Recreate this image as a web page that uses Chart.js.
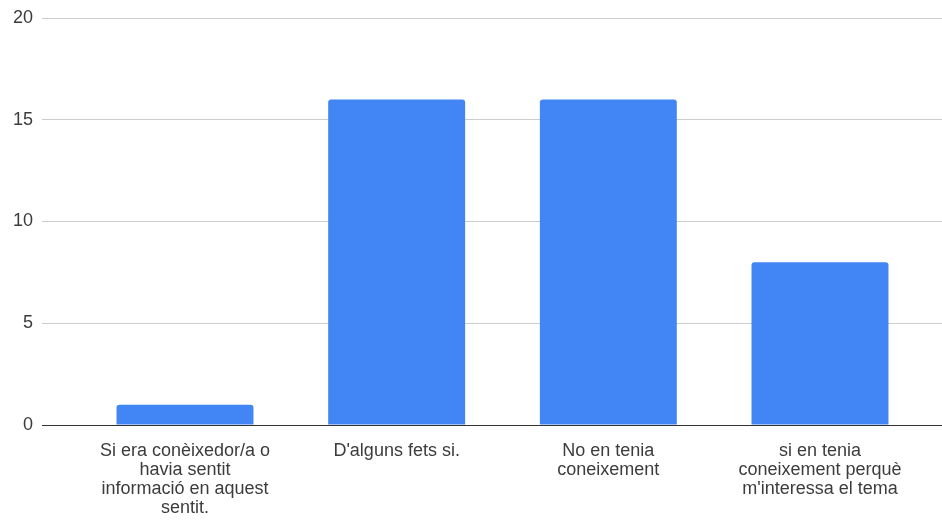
<!DOCTYPE html>
<html>
<head>
<meta charset="utf-8">
<script src="https://cdn.jsdelivr.net/npm/chart.js@4/dist/chart.umd.min.js"></script>
<style>
  html, body { margin: 0; padding: 0; background: #fff; }
  #wrap { width: 942px; height: 520px; position: relative; }
</style>
</head>
<body>
<div id="wrap"><canvas id="c" width="942" height="520"></canvas></div>
<script>
// Answer categories (each entry is the wrapped label lines)
const categories = [
  ["Si era conèixedor/a o", "havia sentit", "informació en aquest", "sentit."],
  ["D'alguns fets si."],
  ["No en tenia", "coneixement"],
  ["si en tenia", "coneixement perquè", "m'interessa el tema"]
];
// Number of responses per category
const counts = [1, 16, 16, 8];
// Value axis ticks
const yTicks = [0, 5, 10, 15, 20];

const textColor = '#3c3c3c';
const fontFamily = 'Arial, "Liberation Sans", sans-serif';

// Draws the baseline over the bars
const baseline = {
  id: 'baseline',
  afterDatasetsDraw(chart) {
    const { ctx, chartArea, scales } = chart;
    const y = Math.round(scales.y.getPixelForValue(0)) + 0.5;
    ctx.save();
    ctx.strokeStyle = '#333';
    ctx.lineWidth = 1;
    ctx.beginPath();
    ctx.moveTo(chartArea.left, y);
    ctx.lineTo(chartArea.right, y);
    ctx.stroke();
    ctx.restore();
  }
};

new Chart(document.getElementById('c'), {
  type: 'bar',
  data: {
    datasets: [{
      data: counts.map((v, i) => ({ x: i, y: v })),
      backgroundColor: '#4285F4',
      borderRadius: { topLeft: 3, topRight: 3 },
      borderSkipped: 'bottom',
      barPercentage: 0.647,
      categoryPercentage: 1
    }]
  },
  options: {
    responsive: false,
    animation: false,
    layout: { padding: { top: 18, right: 0, left: 0, bottom: 0 } },
    plugins: { legend: { display: false }, tooltip: { enabled: false } },
    scales: {
      x: {
        type: 'linear',
        offset: false,
        min: -0.6756,
        max: 3.5764,
        grid: { display: false, offset: false },
        border: { display: false },
        afterBuildTicks(scale) {
          scale.ticks = categories.map((_, i) => ({ value: i }));
        },
        afterFit(scale) { scale.height = 95; },
        ticks: {
          autoSkip: false,
          maxRotation: 0,
          padding: 9,
          color: textColor,
          font: { family: fontFamily, size: 18, lineHeight: '19px' },
          callback: (v) => categories[v]
        }
      },
      y: {
        min: 0,
        max: 20,
        afterBuildTicks(scale) {
          scale.ticks = yTicks.map(v => ({ value: v }));
        },
        afterFit(scale) { scale.width = 42; },
        border: { display: false },
        grid: {
          drawTicks: false,
          color: '#cccccc',
          lineWidth: 1
        },
        ticks: {
          padding: 9,
          color: textColor,
          font: { family: fontFamily, size: 18, lineHeight: 1 }
        }
      }
    }
  },
  plugins: [baseline]
});
</script>
</body>
</html>
